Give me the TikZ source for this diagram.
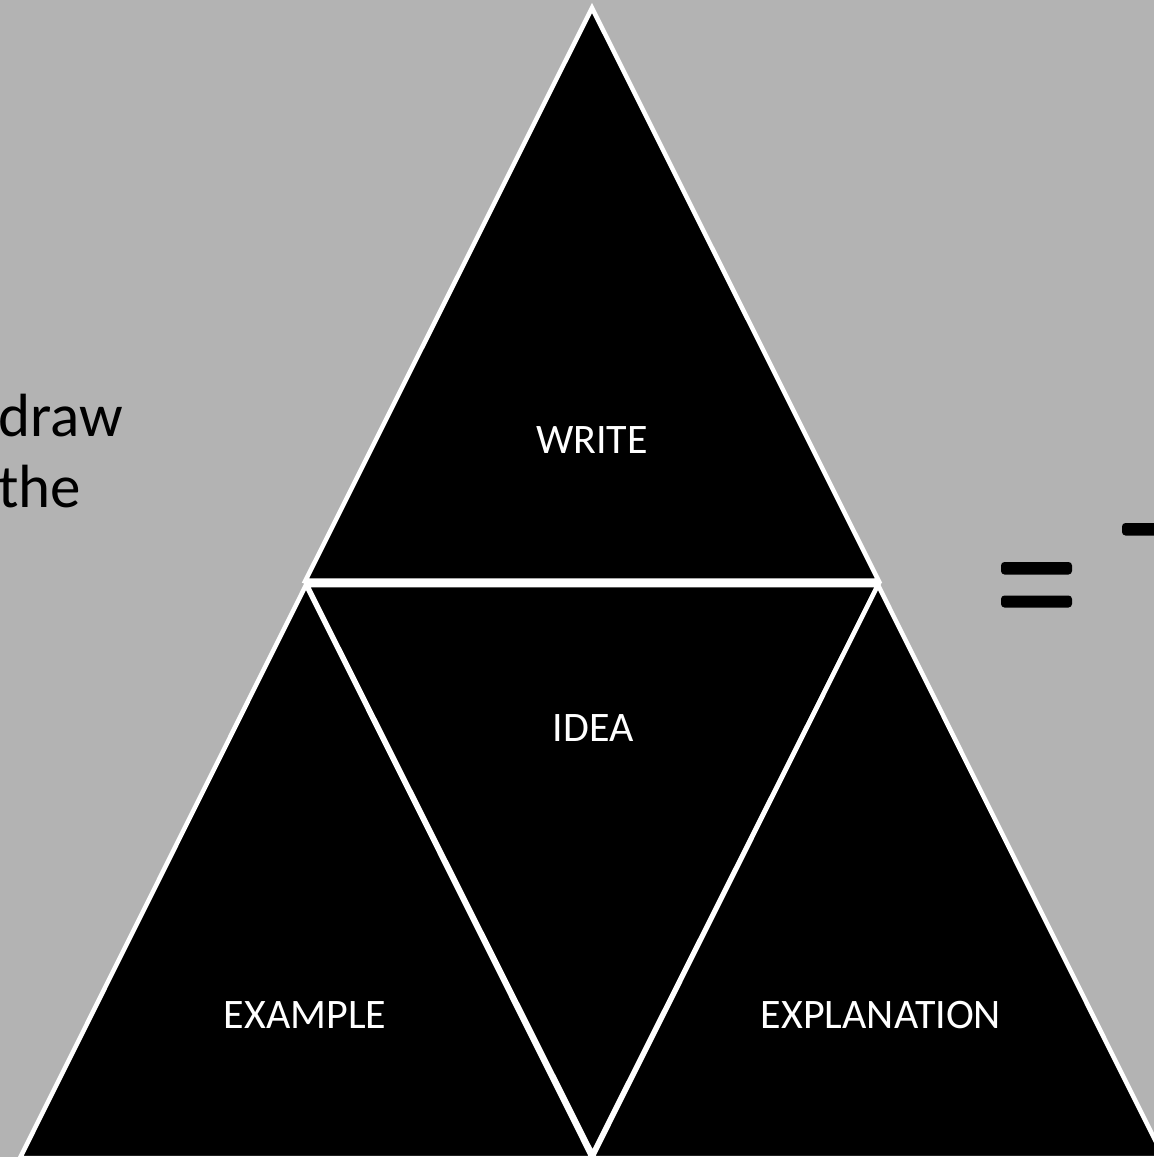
\documentclass[tikz,border=0pt]{standalone}
\usepackage{fontspec}
\setmainfont{Carlito}
\definecolor{bggray}{HTML}{B3B3B3}
\begin{document}
\begin{tikzpicture}[x=1pt,y=-1pt,
  tri/.style={fill=black,draw=white,line width=4.5pt,line join=miter},
  lbl/.style={text=white,font=\fontsize{42}{44}\selectfont,anchor=base,inner sep=0pt},
  side/.style={text=black,font=\fontsize{61}{71}\selectfont,anchor=base west,inner sep=0pt},
  bar/.style={fill=black,rounded corners=3.5pt}]
\fill[bggray] (0,0) rectangle (1154,1157);
\useasboundingbox (0,0) rectangle (1154,1157);
% triangles
\draw[tri] (592,8) -- (878.5,580.5) -- (305.5,580.5) -- cycle;
\draw[tri] (306,585) -- (592,1158) -- (20,1158) -- cycle;
\draw[tri] (307,585) -- (878,585) -- (592.5,1154) -- cycle;
\draw[tri] (878,585) -- (1164,1158) -- (592,1158) -- cycle;
% labels
\node[lbl] (write) at (592,453) {WRITE};
\node[lbl] (idea) at (593,741) {IDEA};
\node[lbl] (example) at (305,1028) {EXAMPLE};
\node[lbl] (explanation) at (881,1028) {EXPLANATION};
% left text
\node[side] (draw) at (-2,436) {draw};
\node[side] (the) at (-2,507) {the};
% right glyph fragments
\fill[bar] (1001,562) rectangle (1072,574.5);
\fill[bar] (1001,595.5) rectangle (1072,607.5);
\fill[bar] (1122,523) rectangle (1170,535.5);
\end{tikzpicture}
\end{document}
